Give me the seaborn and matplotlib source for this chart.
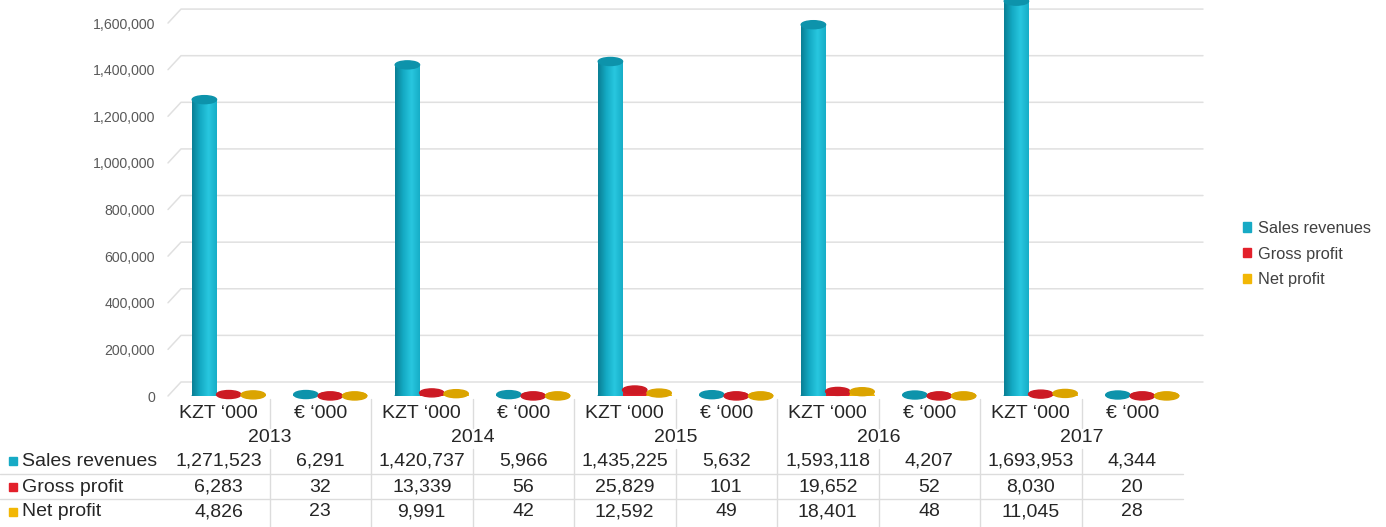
import matplotlib
matplotlib.use("Agg")
import matplotlib.pyplot as plt  # noqa: E402
import matplotlib.transforms as mtrans  # noqa: E402
from matplotlib.colors import LinearSegmentedColormap  # noqa: E402
from matplotlib.patches import Ellipse, Patch, Rectangle  # noqa: E402
import numpy as np  # noqa: E402
import pandas as pd  # noqa: E402
import seaborn as sns  # noqa: E402

years = ["2013", "2014", "2015", "2016", "2017"]
units = ["KZT \u2018000", "\u20ac \u2018000"]
series = ["Sales revenues", "Gross profit", "Net profit"]

sales_revenues = [1271523, 6291, 1420737, 5966, 1435225, 5632, 1593118, 4207, 1693953, 4344]
gross_profit = [6283, 32, 13339, 56, 25829, 101, 19652, 52, 8030, 20]
net_profit = [4826, 23, 9991, 42, 12592, 49, 18401, 48, 11045, 28]

colors = ["#17aac5", "#e3202b", "#f2b705"]
cap_colors = ["#0d93ab", "#cc1a24", "#dba400"]
shades = [
    ["#0a7f94", "#14aac4", "#28c7df", "#17adc7"],
    ["#a3101a", "#dc1e29", "#f5464f", "#d61c26"],
    ["#b58700", "#efb405", "#ffcd30", "#e3aa00"],
]

categories = [f"{y}|{u}" for y in years for u in units]
values = [sales_revenues, gross_profit, net_profit]

df = pd.DataFrame({
    "category": np.tile(categories, 3),
    "series": np.repeat(series, len(categories)),
    "value": np.concatenate(values),
})

sns.set_style("white")
plt.rcParams["font.family"] = ["Liberation Sans", "DejaVu Sans"]

W, H = 1386, 527
fig = plt.figure(figsize=(W / 100, H / 100), dpi=100)
ax = fig.add_axes([168 / W, 1 - 396 / H, (1183 - 168) / W, 396 / H])

sns.barplot(data=df, x="category", y="value", hue="series", order=categories,
            hue_order=series, palette=colors, width=0.72, gap=0.0,
            saturation=1, legend=False, ax=ax, zorder=3)

ymax = 1_699_000
ax.set_ylim(0, ymax)
ax.set_xlim(-0.5, len(categories) - 0.5)
ax.set_yticks(np.arange(0, 1_600_001, 200_000))
ax.yaxis.set_major_formatter(matplotlib.ticker.FuncFormatter(lambda v, _: f"{int(v):,}"))
ax.tick_params(axis="y", length=0, pad=9.5, labelsize=10.2, labelcolor="#595959")
ax.set_xticks([])
ax.set_xlabel("")
ax.set_ylabel("")
for s in ax.spines.values():
    s.set_visible(False)

# back-wall gridlines with a small perspective step
px_x = 1 / (1183 - 168)
px_y = ymax / 396
gtr = mtrans.blended_transform_factory(ax.transAxes, ax.transData)
for v in ax.get_yticks():
    ax.plot([0, 13 * px_x, 1 + 20 * px_x], [v, v + 14 * px_y, v + 14 * px_y],
            color="#e0e0e0", linewidth=1.1, transform=gtr, clip_on=False, zorder=0)

# cylinders: gradient body plus elliptic caps, nudged right for the 3D look
dx = 10 / 101.5
cap_h = 8 * px_y
for cont, cc, fc, sh in zip(ax.containers, cap_colors, colors, shades):
    cmap = LinearSegmentedColormap.from_list("cyl", sh)
    for p in cont.patches:
        p.set_x(p.get_x() + dx)
        p.set_edgecolor("none")
        x0, w, h = p.get_x(), p.get_width(), p.get_height()
        ax.add_patch(Ellipse((x0 + w / 2, 0), w, cap_h, color=sh[1], zorder=3))
        if h > cap_h:
            ax.imshow(np.linspace(0, 1, 64)[None, :], cmap=cmap, aspect="auto",
                      extent=[x0, x0 + w, 0, h], zorder=3.5, interpolation="bilinear",
                      clip_on=False)
        ax.add_patch(Ellipse((x0 + w / 2, h), w, cap_h, color=cc, zorder=4,
                             clip_on=False))
ax.set_xlim(-0.5, len(categories) - 0.5)
ax.set_ylim(0, ymax)

# data table
tr = mtrans.blended_transform_factory(ax.transData, fig.transFigure)
fy = lambda px: 1 - px / H  # noqa: E731
tcolor = "#262626"
tsize = 14
for i, c in enumerate(categories):
    ax.text(i, fy(413), c.split("|")[1], transform=tr, ha="center", va="center",
            fontsize=tsize, color=tcolor)
for j, y in enumerate(years):
    ax.text(2 * j + 0.5, fy(437), y, transform=tr, ha="center", va="center",
            fontsize=tsize, color=tcolor)
row_y = [461, 487, 512]
for r, (name, vals) in enumerate(zip(series, values)):
    for i, v in enumerate(vals):
        ax.text(i, fy(row_y[r]), f"{v:,}", transform=tr, ha="center", va="center",
                fontsize=tsize, color=tcolor)
    fig.add_artist(Rectangle((9 / W, fy(row_y[r] + 4)), 8 / W, 8 / H,
                             transform=fig.transFigure, color=colors[r]))
    fig.text(22 / W, fy(row_y[r]), name, ha="left", va="center", fontsize=tsize,
             color=tcolor)

line_kw = dict(color="#dcdcdc", linewidth=1, transform=tr, clip_on=False)
for yy in [474, 499]:
    ax.plot([-0.5 - 168 / 101.5, len(categories) - 0.5], [fy(yy), fy(yy)], **line_kw)
for k in range(1, len(categories)):
    xb = k - 0.5
    if k % 2 == 0:
        ax.plot([xb, xb], [fy(399), fy(527)], **line_kw)
    else:
        ax.plot([xb, xb], [fy(399), fy(428)], **line_kw)
        ax.plot([xb, xb], [fy(449), fy(527)], **line_kw)

handles = [Patch(color=c, label=s) for c, s in zip(colors, series)]
fig.legend(handles=handles, loc="center left", bbox_to_anchor=(1228 / W, fy(254)),
           frameon=False, fontsize=11.8, handlelength=0.5, handleheight=0.5,
           handletextpad=0.43, labelspacing=0.65, labelcolor="#404040")

fig.savefig("out.png", dpi=100)
